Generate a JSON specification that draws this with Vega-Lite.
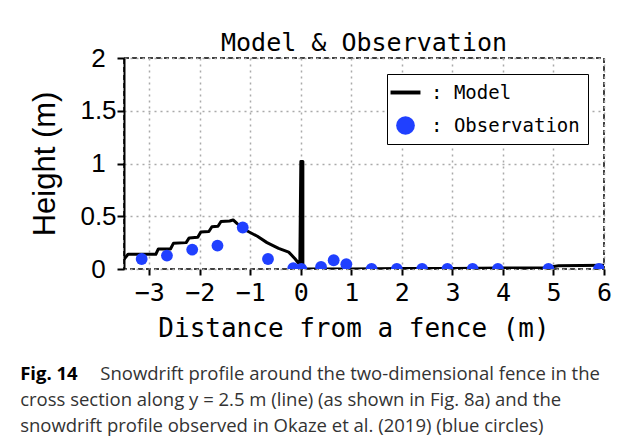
{
  "$schema": "https://vega.github.io/schema/vega-lite/v6.json",
  "background": "white",
  "padding": {"left": 20, "top": 30, "right": 0, "bottom": 0},
  "data": {
    "values": [
      {"series": "Model", "i": 1, "x": -3.52, "y": 0.08},
      {"series": "Model", "i": 2, "x": -3.42, "y": 0.14},
      {"series": "Model", "i": 3, "x": -2.87, "y": 0.14},
      {"series": "Model", "i": 4, "x": -2.82, "y": 0.19},
      {"series": "Model", "i": 5, "x": -2.58, "y": 0.19},
      {"series": "Model", "i": 6, "x": -2.52, "y": 0.245},
      {"series": "Model", "i": 7, "x": -2.27, "y": 0.25},
      {"series": "Model", "i": 8, "x": -2.21, "y": 0.295},
      {"series": "Model", "i": 9, "x": -2.04, "y": 0.3},
      {"series": "Model", "i": 10, "x": -1.98, "y": 0.35},
      {"series": "Model", "i": 11, "x": -1.82, "y": 0.355},
      {"series": "Model", "i": 12, "x": -1.76, "y": 0.4},
      {"series": "Model", "i": 13, "x": -1.64, "y": 0.405},
      {"series": "Model", "i": 14, "x": -1.58, "y": 0.45},
      {"series": "Model", "i": 15, "x": -1.41, "y": 0.455},
      {"series": "Model", "i": 16, "x": -1.34, "y": 0.465},
      {"series": "Model", "i": 17, "x": -1.26, "y": 0.43},
      {"series": "Model", "i": 18, "x": -1.06, "y": 0.36},
      {"series": "Model", "i": 19, "x": -0.86, "y": 0.31},
      {"series": "Model", "i": 20, "x": -0.67, "y": 0.25},
      {"series": "Model", "i": 21, "x": -0.44, "y": 0.195},
      {"series": "Model", "i": 22, "x": -0.24, "y": 0.16},
      {"series": "Model", "i": 23, "x": -0.12, "y": 0.1},
      {"series": "Model", "i": 24, "x": -0.02, "y": 0.04},
      {"series": "Model", "i": 25, "x": 0.0, "y": 1.02},
      {"series": "Model", "i": 26, "x": 0.04, "y": 1.02},
      {"series": "Model", "i": 27, "x": 0.04, "y": 0.0},
      {"series": "Model", "i": 28, "x": 1.0, "y": 0.0},
      {"series": "Model", "i": 29, "x": 2.0, "y": 0.005},
      {"series": "Model", "i": 30, "x": 3.0, "y": 0.005},
      {"series": "Model", "i": 31, "x": 4.0, "y": 0.01},
      {"series": "Model", "i": 32, "x": 4.85, "y": 0.012},
      {"series": "Model", "i": 33, "x": 5.1, "y": 0.03},
      {"series": "Model", "i": 34, "x": 6.0, "y": 0.035},
      {"series": "Observation", "x": -3.15, "y": 0.095},
      {"series": "Observation", "x": -2.65, "y": 0.127},
      {"series": "Observation", "x": -2.15, "y": 0.184},
      {"series": "Observation", "x": -1.65, "y": 0.222},
      {"series": "Observation", "x": -1.15, "y": 0.393},
      {"series": "Observation", "x": -0.65, "y": 0.095},
      {"series": "Observation", "x": -0.15, "y": 0.007},
      {"series": "Observation", "x": 0.01, "y": 0.0},
      {"series": "Observation", "x": 0.4, "y": 0.02},
      {"series": "Observation", "x": 0.65, "y": 0.083},
      {"series": "Observation", "x": 0.9, "y": 0.045},
      {"series": "Observation", "x": 1.4, "y": 0.0},
      {"series": "Observation", "x": 1.9, "y": 0.0},
      {"series": "Observation", "x": 2.4, "y": 0.0},
      {"series": "Observation", "x": 2.9, "y": 0.0},
      {"series": "Observation", "x": 3.4, "y": 0.0},
      {"series": "Observation", "x": 3.9, "y": 0.0},
      {"series": "Observation", "x": 4.9, "y": 0.0},
      {"series": "Observation", "x": 5.9, "y": 0.0}
    ]
  },
  "vconcat": [
    {
      "title": {
        "text": "Model & Observation",
        "font": "DejaVu Sans Mono",
        "fontSize": 25,
        "fontWeight": "normal",
        "color": "black",
        "anchor": "middle",
        "frame": "group",
        "baseline": "alphabetic",
        "offset": -31
      },
      "width": 480,
      "height": 211,
      "layer": [
        {
          "transform": [{"filter": "datum.series === 'Model'"}],
          "mark": {"type": "line", "color": "black", "strokeWidth": 3, "clip": true, "strokeJoin": "round"},
          "encoding": {
            "x": {
              "field": "x", "type": "quantitative",
              "scale": {"domain": [-3.5, 6], "nice": false, "zero": false},
              "axis": {
                "title": "Distance from a fence (m)",
                "values": [-3, -2, -1, 0, 1, 2, 3, 4, 5, 6],
                "domain": false,
                "tickSize": 6, "tickWidth": 2, "tickColor": "black",
                "labelFont": "DejaVu Sans Mono", "labelFontSize": 25, "labelColor": "black",
                "labelPadding": 5, "labelFlush": false, "labelOverlap": false,
                "titleFont": "DejaVu Sans Mono", "titleFontSize": 26, "titleFontWeight": "normal",
                "titleColor": "black", "titlePadding": 10, "titleX": 229.5,
                "gridColor": "#aaaaaa", "gridDash": [2, 4], "gridWidth": 1.5
              }
            },
            "y": {
              "field": "y", "type": "quantitative",
              "scale": {"domain": [0, 2], "nice": false},
              "axis": {
                "title": "Height (m)",
                "values": [0, 0.5, 1, 1.5, 2],
                "format": "~g",
                "domain": true, "domainColor": "black", "domainWidth": 2,
                "tickSize": 7, "tickWidth": 2, "tickColor": "black",
                "labelFont": "Liberation Sans", "labelFontSize": 26, "labelColor": "black",
                "labelAlign": "center", "labelBaseline": "middle", "labelPadding": 19,
                "labelFlush": false, "labelOverlap": false,
                "titleFont": "Liberation Sans", "titleFontSize": 31, "titleFontWeight": "normal",
                "titleColor": "black", "titlePadding": 18,
                "gridColor": "#aaaaaa", "gridDash": [2, 4], "gridWidth": 1.5
              }
            },
            "order": {"field": "i"}
          }
        },
        {
          "transform": [{"filter": "datum.series === 'Observation'"}],
          "mark": {"type": "point", "filled": true, "size": 140, "opacity": 1, "clip": true},
          "encoding": {
            "x": {"field": "x", "type": "quantitative"},
            "y": {"field": "y", "type": "quantitative"},
            "color": {
              "field": "series", "type": "nominal",
              "scale": {"domain": ["Model", "Observation"], "range": ["black", "#2040ff"]},
              "legend": {
                "title": null,
                "orient": "top-right",
                "offset": 16,
                "labelExpr": "': ' + datum.label",
                "labelFont": "DejaVu Sans Mono", "labelFontSize": 19, "labelColor": "black",
                "labelOffset": 15,
                "strokeColor": "black", "fillColor": "white", "padding": 8, "rowPadding": 12,
                "symbolSize": 350
              }
            },
            "shape": {
              "field": "series", "type": "nominal",
              "scale": {"domain": ["Model", "Observation"], "range": ["M-1.6,-0.21H1.6V0.21H-1.6Z", "circle"]},
              "legend": {
                "title": null,
                "orient": "top-right",
                "offset": 16,
                "labelExpr": "': ' + datum.label",
                "labelFont": "DejaVu Sans Mono", "labelFontSize": 19, "labelColor": "black",
                "labelOffset": 15,
                "strokeColor": "black", "fillColor": "white", "padding": 8, "rowPadding": 12,
                "symbolSize": 350
              }
            }
          }
        }
      ]
    }
  ],
  "title": {
    "text": "Fig. 14",
    "subtitle": [
      "\u200b\u2002\u2002\u2002\u2002\u2002\u2002\u2002\u2002\u2009\u2009Snowdrift profile around the two-dimensional fence in the",
      "cross section along y = 2.5 m (line) (as shown in Fig. 8a) and the",
      "snowdrift profile observed in Okaze et al. (2019) (blue circles)"
    ],
    "orient": "bottom",
    "anchor": "start",
    "frame": "bounds",
    "baseline": "top",
    "offset": 23,
    "dx": -9,
    "font": "Open Sans",
    "fontSize": 18.5,
    "fontWeight": "bold",
    "color": "black",
    "subtitleFont": "Open Sans",
    "subtitleFontSize": 18.5,
    "subtitleColor": "#333333",
    "subtitleLineHeight": 26,
    "subtitlePadding": -18.5
  },
  "config": {
    "view": {"stroke": "black", "strokeWidth": 1.5, "strokeDash": [5, 3]},
    "axis": {"grid": true}
  }
}
